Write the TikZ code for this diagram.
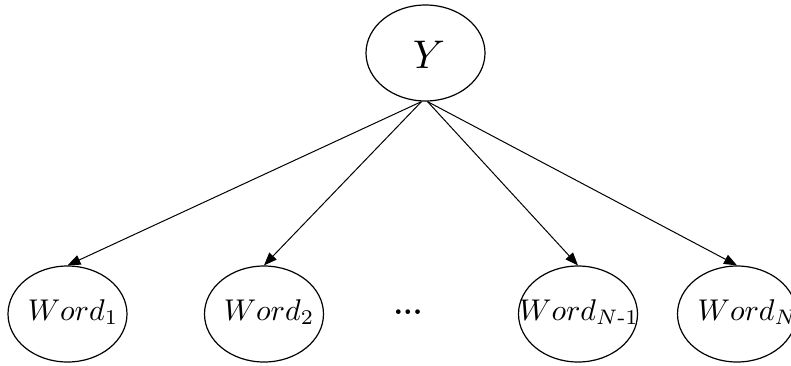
\documentclass[tikz,border=0pt]{standalone}
\usepackage{amsmath}
\usetikzlibrary{shapes.geometric,arrows.meta}
\begin{document}
\begin{tikzpicture}[x=1pt,y=-1pt,
  oval/.style={draw,line width=1.2pt,ellipse,minimum width=119pt,minimum height=96pt,inner sep=0pt},
  wordtxt/.style={scale=3,transform shape,inner sep=0pt},
  link/.style={line width=1pt,-{Triangle[length=13pt,width=10pt]}}]
\useasboundingbox (0,0) rectangle (791,365);
\clip (0,0) rectangle (791,365);
\node[oval] (Y) at (425.5,53) {};
\node[scale=4,transform shape,inner sep=0pt] (Yt) at (429,55) {$Y$};
\node[oval] (w1) at (67.5,314) {};
\node[oval] (w2) at (264,314) {};
\node[oval] (w3) at (578,314) {};
\node[oval] (w4) at (737,314) {};
\node[wordtxt] (t1) at (73,312) {$Word_1$};
\node[wordtxt] (t2) at (269,312) {$Word_2$};
\node[wordtxt] (t3) at (579,312) {$Word_{N\text{-}1}$};
\node[wordtxt,anchor=west] (t4) at (697,312) {$Word_N$};
\node[wordtxt] (dots) at (408,312) {\bfseries ...};
\draw[link] (Y.south) ++(-4,0) coordinate (sa) -- (w1.north);
\draw[link] (sa) -- (w2.north);
\draw[link] (Y.south) ++(2,0) coordinate (sb) -- (w3.north);
\draw[link] (sb) -- (w4.north);
\end{tikzpicture}
\end{document}
